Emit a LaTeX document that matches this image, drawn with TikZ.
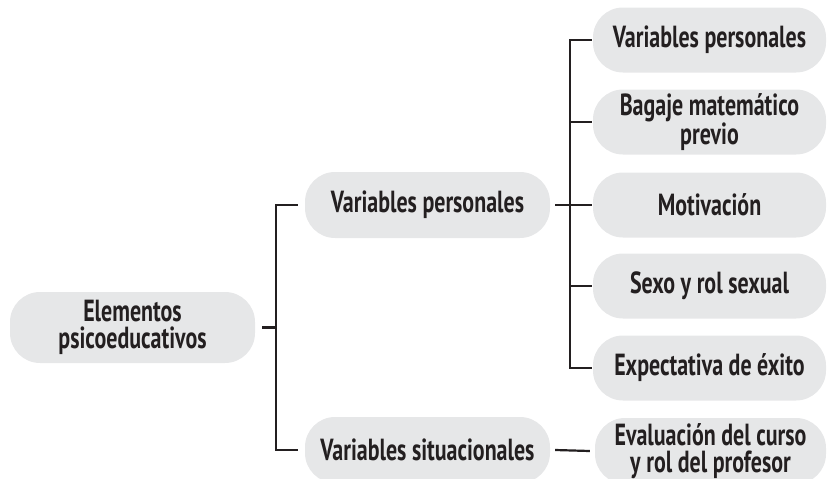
\documentclass[tikz,border=0pt]{standalone}
\usepackage{fontspec}
\setmainfont{PT Sans}[FakeStretch=0.72]
\definecolor{ink}{HTML}{231F20}
\definecolor{pill}{HTML}{E6E7E8}
\begin{document}
\begin{tikzpicture}[x=1pt,y=-1pt,
  pillbox/.style={fill=pill, rounded corners=30pt, inner sep=0pt,
    minimum height=#1, align=center, text=ink,
    font=\fontsize{30.5}{27}\selectfont\bfseries},
  pillbox/.default=65pt,
  link/.style={draw=ink, line width=2.2pt}]
\useasboundingbox (0,0) rectangle (827,479);
\clip (0,0) rectangle (827,479);

% root
\node[pillbox=71pt, minimum width=245pt] (elem) at (132.5,327.5) {Elementos\\psicoeducativos};

% second level
\node[pillbox=66pt, minimum width=245pt] (vp) at (427.5,205) {Variables personales};
\node[pillbox=66pt, minimum width=245pt] (vs) at (427.5,450) {Variables situacionales};

% third level
\node[pillbox, minimum width=233pt] (r1) at (709.5,40)  {Variables personales};
\node[pillbox, minimum width=233pt] (r2) at (709.5,122) {Bagaje matemático\\previo};
\node[pillbox, minimum width=233pt] (r3) at (709.5,205) {Motivación};
\node[pillbox, minimum width=233pt] (r4) at (709.5,286) {Sexo y rol sexual};
\node[pillbox, minimum width=233pt] (r5) at (709.5,368) {Expectativa de éxito};
\node[pillbox=66pt, minimum width=231pt] (r6) at (710.5,451) {Evaluación del curso\\y rol del profesor};

% trunk joints
\coordinate (ta) at (276,327.5);
\coordinate (tb) at (570,205);

% root to second level
\draw[link] ([xshift=7pt]elem.east) -- (ta);
\draw[link] ([xshift=-7pt]vp.west) -| (ta |- vs) -- ([xshift=-7pt]vs.west);

% personal variables to their list
\draw[link] ([xshift=5pt]vp.east) -- ([xshift=-1pt]r3.west);
\draw[link] ([xshift=-1pt]r1.west) -| (tb |- r5) -- ([xshift=-1pt]r5.west);
\draw[link] ([xshift=-1pt]r2.west) -- (tb |- r2);
\draw[link] ([xshift=-1pt]r4.west) -- (tb |- r4);

% situational variables
\draw[link] ([xshift=5pt]vs.east) -- ([xshift=-5pt]r6.west);
\end{tikzpicture}
\end{document}
